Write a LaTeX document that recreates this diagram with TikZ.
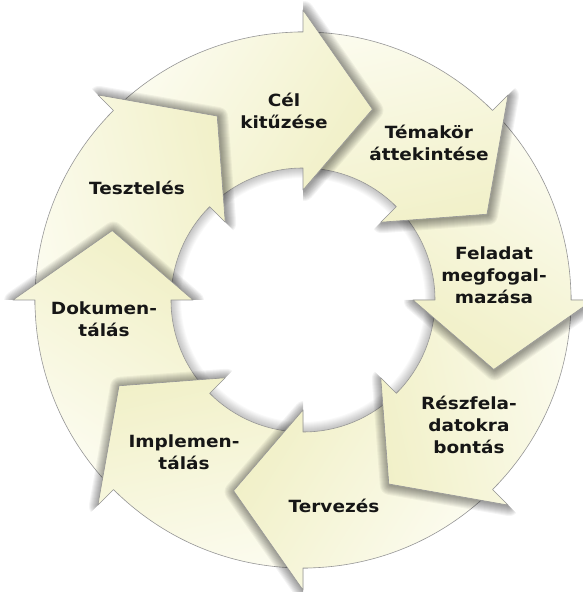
\documentclass[tikz,border=0pt]{standalone}
\usepackage{fontspec}
\setmainfont{DejaVu Sans}[FakeStretch=1.1]
\definecolor{lite}{RGB}{254,254,247}
\definecolor{yel}{RGB}{240,239,196}
\definecolor{edge}{RGB}{150,150,150}
\definecolor{ink}{RGB}{22,22,22}
% square -400..400 maps to 25bp..75bp (1bp = 16 units); ramp from u=-300 to u=-20
\pgfdeclarehorizontalshading{arrowshade}{100bp}{color(0bp)=(lite); color(31.25bp)=(lite); color(48.75bp)=(yel); color(100bp)=(yel)}
\begin{document}
\begin{tikzpicture}[x=1pt,y=1pt,
  lbl/.style={font=\bfseries\fontsize{16.8}{22}\selectfont, text=ink, align=center, inner sep=0pt},
  rim/.style={draw=edge, line width=0.6pt},
  glowline/.style={black, opacity=0.045, line join=round},
  paint/.style={shading=arrowshade, shading angle=#1}]
\useasboundingbox (0,0) rectangle (583,592);
\fill[white] (0,0) rectangle (583,592);
\clip (0,0) rectangle (583,592);
\begin{scope}[shift={(303,292)}]
  % soft shadow inside the ring
  \foreach \w in {2,4,...,20}
    \draw[black, opacity=0.025, line width=\w pt] (0,0) circle (132);
  % arrow bodies (ring segments)
  \foreach \a in {90,45,...,-225} {
    \pgfmathsetmacro\angB{\a+45}
    \pgfmathsetmacro\angE{\a-2}
    \pgfmathsetmacro\angG{\a-122}
    \begin{scope}
      \clip (\angB:132) -- (\angB:268) arc[start angle=\angB, end angle=\angE, radius=268]
        -- (\angE:132) arc[start angle=\angE, end angle=\angB, radius=132] -- cycle;
      \shade[paint=\angG] (-400,-400) rectangle (400,400);
    \end{scope}
  }
  \draw[rim] (0,0) circle (268) (0,0) circle (132);
  % arrow heads with shadows
  \foreach \a in {90,45,...,-225} {
    \pgfmathsetmacro\angT{\a-20}
    \pgfmathsetmacro\angF{\a-90}
    \pgfmathsetmacro\angS{\a+2}
    \pgfmathsetmacro\angG{\a-122}
    \begin{scope}
      \clip (0,0) -- (\a:420) arc[start angle=\a, end angle=\angF, radius=420] -- cycle;
      \foreach \w in {2,4,...,20}
        \draw[glowline, line width=\w pt, shift={(1,-1)}] (\a:290) -- (\angT:203) -- (\a:110) -- cycle;
    \end{scope}
    \begin{scope}
      \clip (\angS:132) -- (\angS:268) arc[start angle=\angS, end angle=\a, radius=268]
        -- (\a:290) -- (\angT:203) -- (\a:110) -- (\a:132)
        arc[start angle=\a, end angle=\angS, radius=132] -- cycle;
      \shade[paint=\angG] (-400,-400) rectangle (400,400);
    \end{scope}
    \draw[rim, line join=round] (\angS:268) arc[start angle=\angS, end angle=\a, radius=268]
      -- (\a:290) -- (\angT:203) -- (\a:110) -- (\a:132)
      arc[start angle=\a, end angle=\angS, radius=132];
  }
\end{scope}
\node[lbl] (cel) at (284,481) {Cél\\kitűzése};
\node[lbl] (temakor) at (429,449) {Témakör\\áttekintése};
\node[lbl] (feladat) at (494,317) {Feladat\\megfogal-\\mazása};
\node[lbl] (reszfela) at (469,167.5) {Részfela-\\datokra\\bontás};
\node[lbl] (tervezes) at (334,86.5) {Tervezés};
\node[lbl] (implem) at (184,139.5) {Implemen-\\tálás};
\node[lbl] (dokumen) at (104,272.5) {Dokumen-\\tálás};
\node[lbl] (teszteles) at (137,404.5) {Tesztelés};
\end{tikzpicture}
\end{document}
